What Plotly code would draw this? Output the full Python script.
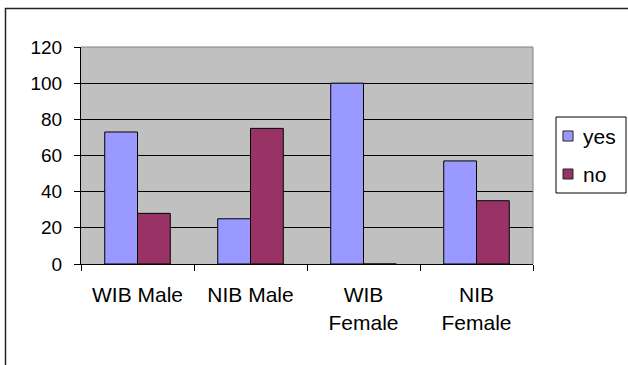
import plotly.graph_objects as go

categories = ["WIB Male", "NIB Male", "WIB<br>Female", "NIB<br>Female"]
yes_values = [73, 25, 100, 57]
no_values = [28, 75, 0, 35]
y_ticks = [0, 20, 40, 60, 80, 100, 120]
series_names = ["yes", "no"]
series_colors = ["#9999FF", "#993366"]

FONT = "Arial, Liberation Sans, sans-serif"
W, H = 628, 365
L, R, T, B = 81, 95, 47, 101
pw, ph = W - L - R, H - T - B

def px_x(x):
    return (x - L) / pw

def px_y(y):
    return (H - B - y) / ph

fig = go.Figure()
for name, vals, col in zip(series_names, [yes_values, no_values], series_colors):
    fig.add_trace(go.Bar(x=categories, y=vals, name=name,
                         marker=dict(color=col, line=dict(color="#000000", width=1))))

shapes = [
    dict(type="line", xref="paper", yref="paper", x0=0, x1=1, y0=1, y1=1,
         line=dict(color="#808080", width=1), layer="above"),
    dict(type="line", xref="paper", yref="paper", x0=1, x1=1, y0=0, y1=1,
         line=dict(color="#808080", width=1), layer="above"),
    dict(type="rect", xref="paper", yref="paper",
         x0=px_x(5.5), x1=px_x(660), y0=px_y(400), y1=px_y(8.5),
         line=dict(color="#222222", width=1.5), fillcolor="rgba(0,0,0,0)", layer="above"),
    # legend box
    dict(type="rect", xref="paper", yref="paper",
         x0=px_x(556), x1=px_x(626), y0=px_y(193), y1=px_y(117),
         line=dict(color="#000000", width=1), fillcolor="white", layer="above"),
]
annotations = []
legend_y = [136, 174]
for name, col, ly in zip(series_names, series_colors, legend_y):
    shapes.append(dict(type="rect", xref="paper", yref="paper",
                       x0=px_x(563), x1=px_x(573), y0=px_y(ly + 5), y1=px_y(ly - 5),
                       line=dict(color="#222222", width=1), fillcolor=col, layer="above"))
    annotations.append(dict(xref="paper", yref="paper", x=px_x(581), y=px_y(ly),
                            xanchor="left", yanchor="middle", showarrow=False,
                            text=name, font=dict(family=FONT, size=21, color="black")))

fig.update_layout(
    width=W, height=H,
    margin=dict(l=L, r=R, t=T, b=B, autoexpand=False),
    paper_bgcolor="white",
    plot_bgcolor="#C0C0C0",
    barmode="group",
    bargap=0.42,
    bargroupgap=0,
    font=dict(family=FONT, size=19, color="black"),
    showlegend=False,
    xaxis=dict(
        type="category", automargin=False,
        showline=True, linecolor="black", linewidth=1,
        ticks="outside", tickson="boundaries", ticklen=6, tickcolor="black",
        showgrid=False,
        tickfont=dict(family=FONT, size=21),
        ticklabelstandoff=12,
    ),
    yaxis=dict(
        range=[0, 120], tickvals=y_ticks, automargin=False,
        showline=True, linecolor="black", linewidth=1,
        ticks="outside", ticklen=6, tickcolor="black",
        showgrid=True, gridcolor="#000000", gridwidth=1,
        zeroline=False,
        tickfont=dict(family=FONT, size=19),
        ticklabelstandoff=8,
    ),
    shapes=shapes,
    annotations=annotations,
)

fig.write_html("out.html", config={"displayModeBar": False},
               post_script="document.body.style.margin='0';document.body.style.overflow='hidden';")
